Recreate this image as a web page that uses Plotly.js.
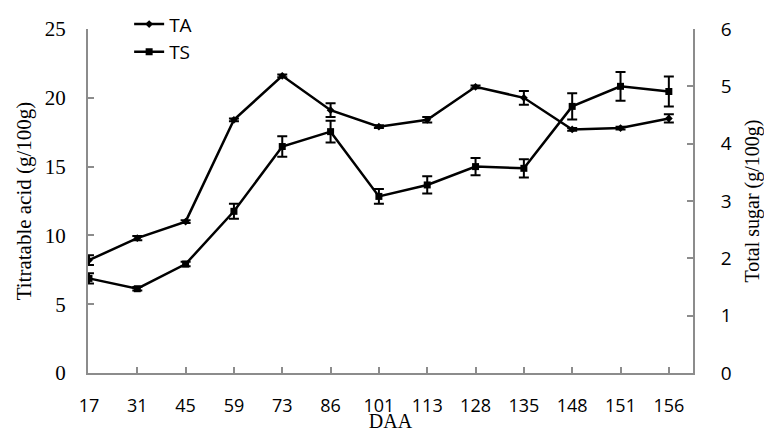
<!DOCTYPE html>
<html>
<head>
<meta charset="utf-8">
<script src="https://cdn.plot.ly/plotly-3.0.1.min.js"></script>
<style>html,body{margin:0;padding:0;background:#fff;}#chart{width:764px;height:432px;}</style>
</head>
<body>
<div id="chart"></div>
<script>
const daa = ["17","31","45","59","73","86","101","113","128","135","148","151","156"];
const taValues = [8.2, 9.8, 11.0, 18.4, 21.6, 19.1, 17.9, 18.4, 20.8, 20.0, 17.7, 17.8, 18.5];
const taErrors = [0.36, 0.15, 0.1, 0.1, 0.1, 0.5, 0.1, 0.2, 0.1, 0.5, 0.1, 0.1, 0.3];
const tsValues = [1.65, 1.47, 1.90, 2.82, 3.95, 4.21, 3.08, 3.28, 3.60, 3.57, 4.65, 5.0, 4.91];
const tsErrors = [0.09, 0.03, 0.04, 0.13, 0.18, 0.19, 0.13, 0.15, 0.15, 0.16, 0.23, 0.25, 0.26];

const axisGray = "#8c8c8c";
const serif = "Liberation Serif, Times New Roman, serif";
const sans = "Open Sans, Liberation Sans, sans-serif";

const traces = [
  {
    x: daa, y: taValues, name: "TA", type: "scatter", mode: "lines+markers",
    line: {color: "#000", width: 2.5},
    marker: {symbol: "diamond", size: 6, color: "#000"},
    error_y: {type: "data", array: taErrors, visible: true, color: "#000", thickness: 2, width: 5},
    yaxis: "y"
  },
  {
    x: daa, y: tsValues, name: "TS", type: "scatter", mode: "lines+markers",
    line: {color: "#000", width: 2.5},
    marker: {symbol: "square", size: 7, color: "#000"},
    error_y: {type: "data", array: tsErrors, visible: true, color: "#000", thickness: 2, width: 5},
    yaxis: "y2"
  }
];

const layout = {
  width: 764, height: 432,
  margin: {l: 88, r: 71, t: 29, b: 59, autoexpand: false},
  paper_bgcolor: "#fff", plot_bgcolor: "#fff",
  showlegend: true,
  legend: {x: 0.068, y: 1.069, xanchor: "left", yanchor: "top", font: {family: sans, size: 19, color: "#000"}, bgcolor: "rgba(0,0,0,0)", tracegroupgap: 0},
  xaxis: {
    type: "category", range: [-0.02, 12.5],
    showline: true, linecolor: axisGray, linewidth: 2,
    ticks: "inside", ticklen: 6, tickwidth: 2, tickcolor: axisGray,
    showgrid: false, zeroline: false,
    tickfont: {family: sans, size: 18, color: "#000"},
    ticklabelstandoff: 15,
    automargin: true,
    title: {text: "DAA", font: {family: serif, size: 20, color: "#000"}, standoff: 6}
  },
  yaxis: {
    range: [0, 25], dtick: 5, tick0: 0,
    showline: true, linecolor: axisGray, linewidth: 2,
    ticks: "inside", ticklen: 6, tickwidth: 2, tickcolor: axisGray,
    showgrid: false, zeroline: false,
    tickfont: {family: serif, size: 21, color: "#000"},
    ticklabelstandoff: 16,
    automargin: true,
    title: {text: "Titratable acid (g/100g)", font: {family: serif, size: 21, color: "#000"}, standoff: 7}
  },
  yaxis2: {
    overlaying: "y", side: "right",
    range: [0, 6], dtick: 1, tick0: 0,
    showline: true, linecolor: axisGray, linewidth: 2,
    ticks: "inside", ticklen: 6, tickwidth: 2, tickcolor: axisGray,
    showgrid: false, zeroline: false,
    tickfont: {family: sans, size: 19, color: "#000"},
    ticklabelstandoff: 22,
    automargin: true,
    title: {text: "Total sugar (g/100g)", font: {family: serif, size: 20, color: "#000"}, standoff: 17}
  }
};

Plotly.newPlot("chart", traces, layout, {displayModeBar: false, staticPlot: true});
</script>
</body>
</html>
